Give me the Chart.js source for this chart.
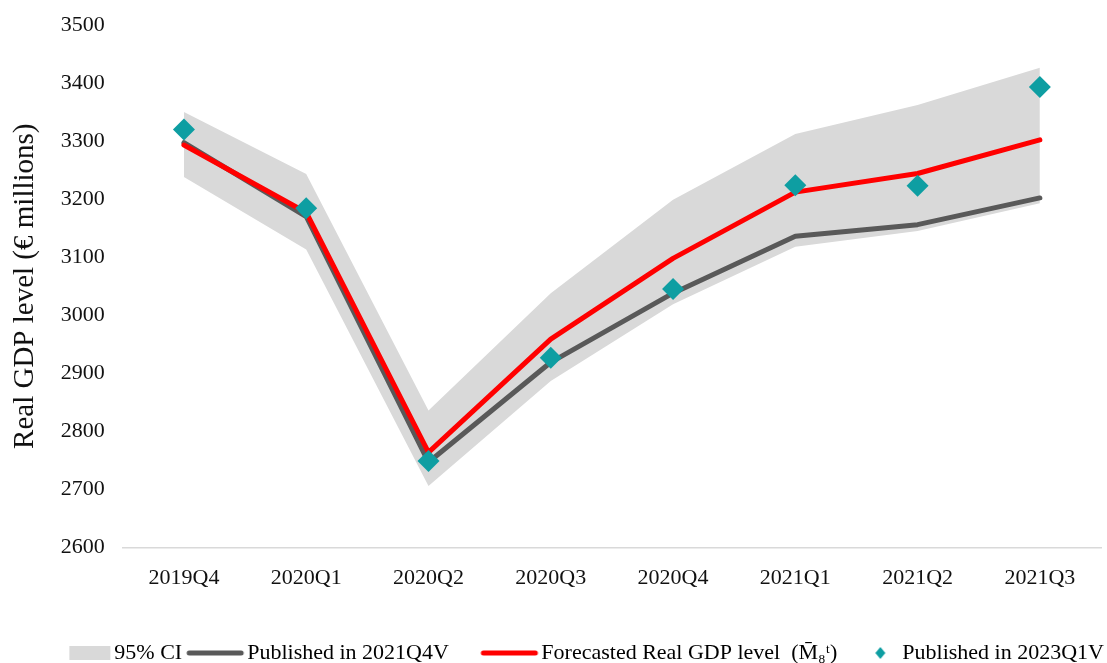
<!DOCTYPE html>
<html>
<head>
<meta charset="utf-8">
<script src="https://cdn.jsdelivr.net/npm/chart.js@4.4.1/dist/chart.umd.min.js"></script>
<style>
  html, body { margin: 0; padding: 0; background: #fff; overflow: hidden; }
  #wrap { width: 1112px; height: 663px; position: relative; }
</style>
</head>
<body>
<div id="wrap"><canvas id="gdp"></canvas></div>
<script>
// quarters on the x axis
const quarters = ['2019Q4', '2020Q1', '2020Q2', '2020Q3', '2020Q4', '2021Q1', '2021Q2', '2021Q3'];
// values (€ millions)
const published2021Q4V = [3297, 3170, 2747, 2919, 3038, 3136, 3156, 3202];
const forecastLevel    = [3293, 3177, 2764, 2959, 3098, 3212, 3244, 3302];
const published2023Q1V = [3320, 3184, 2749, 2927, 3045, 3224, 3223, 3393];
const ciUpper          = [3350, 3243, 2836, 3038, 3199, 3312, 3362, 3426];
const ciLower          = [3238, 3113, 2706, 2887, 3019, 3118, 3145, 3193];
const yTicks = [2600, 2700, 2800, 2900, 3000, 3100, 3200, 3300, 3400, 3500];

const FONT = '"Liberation Serif", "Times New Roman", serif';
const GREY = '#595959', RED = '#ff0000', TEAL = '#0e9ea2', BAND = '#d9d9d9';
const BOX = 46;          // legend box width used for layout
const SW = BOX + 28;     // swatch canvas is wider, so it reaches closer to the text

// little swatches for the legend (canvas is centred on the box)
function swatch(kind) {
    const c = document.createElement('canvas');
    c.width = SW; c.height = 20;
    const g = c.getContext('2d');
    const end = SW - 7;  // about 4px before the label text
    if (kind === 'band') {
        g.fillStyle = BAND;
        g.fillRect(end - 41, 3, 41, 14);
    } else if (kind === 'diamond') {
        g.fillStyle = TEAL;
        g.beginPath();
        const cx = end - 18;
        g.moveTo(cx, 4); g.lineTo(cx + 5, 10); g.lineTo(cx, 16); g.lineTo(cx - 5, 10);
        g.closePath(); g.fill();
    } else {
        g.strokeStyle = kind;
        g.lineWidth = 5;
        g.lineCap = 'round';
        g.beginPath(); g.moveTo(end - 54, 10); g.lineTo(end - 2, 10); g.stroke();
    }
    return c;
}

const legendItems = [
    { text: '95% CI', style: swatch('band') },
    { text: 'Published in 2021Q4V     ', style: swatch(GREY) },
    { text: 'Forecasted Real GDP level  (M\u0304\u2088\u1D57)', style: swatch(RED) },
    { text: 'Published in 2023Q1V', style: swatch('diamond') }
];

new Chart(document.getElementById('gdp'), {
    type: 'line',
    data: {
        labels: quarters,
        datasets: [
            {
                label: 'Published in 2023Q1V',
                data: published2023Q1V,
                showLine: false,
                pointStyle: 'rectRot',
                pointRadius: 11,
                pointBackgroundColor: TEAL,
                pointBorderWidth: 0,
                order: 0
            },
            {
                label: 'Forecasted Real GDP level',
                data: forecastLevel,
                borderColor: RED,
                borderWidth: 5,
                borderCapStyle: 'round',
                borderJoinStyle: 'round',
                pointRadius: 0,
                tension: 0,
                order: 1
            },
            {
                label: 'Published in 2021Q4V',
                data: published2021Q4V,
                borderColor: GREY,
                borderWidth: 5,
                borderCapStyle: 'round',
                borderJoinStyle: 'round',
                pointRadius: 0,
                tension: 0,
                order: 2
            },
            {
                label: 'CI upper',
                data: ciUpper,
                borderWidth: 0,
                borderColor: 'rgba(0,0,0,0)',
                backgroundColor: BAND,
                pointRadius: 0,
                tension: 0,
                fill: '+1',
                order: 3
            },
            {
                label: 'CI lower',
                data: ciLower,
                borderWidth: 0,
                borderColor: 'rgba(0,0,0,0)',
                pointRadius: 0,
                tension: 0,
                fill: false,
                order: 4
            }
        ]
    },
    options: {
        responsive: true,
        maintainAspectRatio: false,
        animation: false,
        layout: { padding: { top: 0, right: 0, bottom: -11, left: 8 } },
        scales: {
            x: {
                offset: true,
                grid: { display: false, drawTicks: false },
                border: { display: true, color: BAND, width: 1.5 },
                ticks: { color: '#111', font: { family: FONT, size: 22 }, padding: 17 },
                afterFit: (scale) => { scale.height += 26; }
            },
            y: {
                min: 2600,
                max: 3500,
                afterBuildTicks: (axis) => { axis.ticks = yTicks.map(v => ({ value: v })); },
                grid: { display: false, drawTicks: false },
                border: { display: false },
                ticks: { color: '#111', font: { family: FONT, size: 22, lineHeight: 0.62 }, padding: 18, callback: (v) => String(v) },
                title: {
                    display: true,
                    text: 'Real GDP level (€ millions)',
                    color: '#111',
                    font: { family: FONT, size: 29 },
                    padding: { top: 0, bottom: 0 }
                }
            }
        },
        plugins: {
            tooltip: { enabled: false },
            legend: {
                position: 'bottom',
                align: 'end',
                labels: {
                    usePointStyle: true,
                    pointStyleWidth: BOX,
                    color: '#111',
                    font: { family: FONT, size: 22 },
                    padding: 8,
                    generateLabels: () => legendItems.map((it, i) => ({
                        text: it.text,
                        pointStyle: it.style,
                        fillStyle: 'rgba(0,0,0,0)',
                        strokeStyle: 'rgba(0,0,0,0)',
                        lineWidth: 0,
                        hidden: false,
                        datasetIndex: i
                    }))
                }
            }
        }
    }
});
</script>
</body>
</html>
